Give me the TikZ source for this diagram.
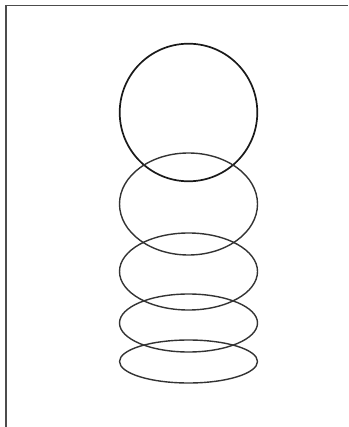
\documentclass[tikz,border=0pt]{standalone}
\usepackage{xcolor}
\usepackage{tikz}

\begin{document}
\begin{tikzpicture}[
    x=1pt, y=-1pt,
    moldura/.style={draw=black!70, line width=1.4pt},
    circulo/.style={draw=black!90, line width=1.7pt},
    anel/.style={draw=black!80, line width=1.4pt}
]
    \useasboundingbox (0,0) rectangle (348,427);

    \draw[moldura] (6,427) -- (6,5.5) -- (348,5.5);

    \draw[circulo] (188.5,112.5) circle [radius=68.8];
    \foreach \cy/\ry in {204/51, 271.5/38.5, 323/29, 361.5/21.5}
        \draw[anel] (188.5,\cy) ellipse [x radius=69, y radius=\ry];
\end{tikzpicture}
\end{document}
